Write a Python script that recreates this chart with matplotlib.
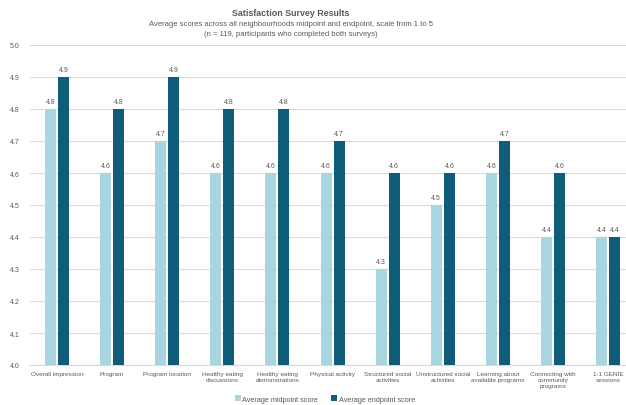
import numpy as np
import matplotlib.pyplot as plt

plt.rcParams['font.family'] = ['Liberation Sans', 'DejaVu Sans']

categories = ['Overall impression', 'Program', 'Program location',
              'Healthy eating\ndiscussions', 'Healthy eating\ndemonstrations',
              'Physical activity', 'Structured social\nactivities',
              'Unstructured social\nactivities', 'Learning about\navailable programs',
              'Connecting with\ncommunity\nprograms', '1:1 GENIE\nsessions']
midpoint = [4.8, 4.6, 4.7, 4.6, 4.6, 4.6, 4.3, 4.5, 4.6, 4.4, 4.4]
endpoint = [4.9, 4.8, 4.9, 4.8, 4.8, 4.7, 4.6, 4.6, 4.7, 4.6, 4.4]
yticks = [4.0, 4.1, 4.2, 4.3, 4.4, 4.5, 4.6, 4.7, 4.8, 4.9, 5.0]

light = '#A9D5E1'
dark = '#0F5D7A'
grey = '#595959'

fig = plt.figure(figsize=(6.26, 4.06), dpi=100)
ax = fig.add_axes([29.5 / 626, 1 - 366 / 406, 596.5 / 626, 320 / 406])

x = np.arange(len(categories))
width = 0.2
offset = 0.118
b1 = ax.bar(x - offset, np.array(midpoint) - 4.0, width, bottom=4.0, color=light,
            label='Average midpoint score', zorder=3)
b2 = ax.bar(x + offset, np.array(endpoint) - 4.0, width, bottom=4.0, color=dark,
            label='Average endpoint score', zorder=3)

for bars, vals in ((b1, midpoint), (b2, endpoint)):
    for rect, v in zip(bars, vals):
        ax.text(rect.get_x() + rect.get_width() / 2, v + 0.012, f'{v:.1f}',
                ha='center', va='bottom', fontsize=5.0, color=grey)

ax.set_ylim(4.0, 5.0)
ax.set_yticks(yticks)
ax.set_yticklabels([f'{t:.1f}' for t in yticks])
ax.set_xlim(-0.5, -0.5 + 596.5 / 55.1)
ax.set_xticks(x)
ax.set_xticklabels(categories, fontsize=4.6, color=grey, linespacing=1.25)
ax.tick_params(axis='y', labelsize=5.0, labelcolor=grey, length=0, pad=7)
ax.tick_params(axis='x', length=0, pad=4)
ax.yaxis.grid(True, color='#D9D9D9', linewidth=0.8, zorder=0)
for side in ('top', 'right', 'left'):
    ax.spines[side].set_visible(False)
ax.spines['bottom'].set_color('#D9D9D9')
ax.spines['bottom'].set_linewidth(0.8)

fig.text(0.465, 1 - 13 / 406, 'Satisfaction Survey Results', ha='center', va='center',
         fontsize=6.4, fontweight='bold', color=grey)
fig.text(0.465, 1 - 24 / 406,
         'Average scores across all neighbourhoods midpoint and endpoint, scale from 1 to 5',
         ha='center', va='center', fontsize=5.5, color=grey)
fig.text(0.465, 1 - 34.5 / 406, '(n = 119, participants who completed both surveys)',
         ha='center', va='center', fontsize=5.5, color=grey)

fig.legend(handles=[b1, b2], loc='center', bbox_to_anchor=(325 / 626, 1 - 400 / 406),
           ncol=2, frameon=False, fontsize=5.2, labelcolor=grey, handlelength=0.8,
           handleheight=0.8, handletextpad=0.2, columnspacing=1.8)

fig.savefig('out.png', dpi=100)
